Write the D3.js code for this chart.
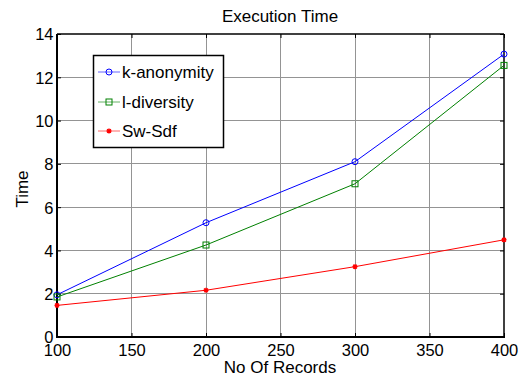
<!DOCTYPE html>
<html><head><meta charset="utf-8">
<script src="https://cdn.jsdelivr.net/npm/d3@7"></script>
<style>
html,body{margin:0;padding:0;background:#fff;}
svg{display:block;}
text{font-family:"Liberation Sans",Arial,sans-serif;fill:#000;}
</style></head>
<body>
<script>
const records = [100, 200, 300, 400];
const kAnonymity = [1.95, 5.28, 8.1, 13.07];
const lDiversity = [1.85, 4.25, 7.08, 12.55];
const swSdf = [1.46, 2.16, 3.25, 4.49];
const xTicks = [100, 150, 200, 250, 300, 350, 400];
const yTicks = [0, 2, 4, 6, 8, 10, 12, 14];
const seriesNames = ["k-anonymity", "l-diversity", "Sw-Sdf"];
const seriesColors = ["#0000ff", "#008000", "#ff0000"];
const seriesMarkers = ["circle", "square", "star"];

const W = 526, H = 376;
const L = 57, R = 504, T = 34, B = 337;
const svg = d3.select("body").append("svg").attr("width", W).attr("height", H);
svg.append("rect").attr("width", W).attr("height", H).attr("fill", "#fff");

const x = d3.scaleLinear().domain([100, 400]).range([L, R]);
const y = d3.scaleLinear().domain([0, 14]).range([B, T]);

// grid
const g = svg.append("g");
g.selectAll(".gx").data(xTicks.slice(1, -1)).enter().append("line")
  .attr("x1", d => x(d)).attr("x2", d => x(d)).attr("y1", T).attr("y2", B)
  .attr("stroke", "#949494").attr("stroke-width", 1).attr("shape-rendering", "crispEdges");
g.selectAll(".gy").data(yTicks.slice(1, -1)).enter().append("line")
  .attr("y1", d => y(d)).attr("y2", d => y(d)).attr("x1", L).attr("x2", R)
  .attr("stroke", "#949494").attr("stroke-width", 1).attr("shape-rendering", "crispEdges");

// axes via d3
const axB = svg.append("g").attr("transform", `translate(0,${B})`)
  .call(d3.axisBottom(x).tickValues(xTicks).tickSize(-4).tickPadding(9).tickFormat(d3.format("d")));
const axL = svg.append("g").attr("transform", `translate(${L},0)`)
  .call(d3.axisLeft(y).tickValues(yTicks).tickSize(-4).tickPadding(3.5).tickFormat(d3.format("d")));
const axT = svg.append("g").attr("transform", `translate(0,${T})`)
  .call(d3.axisTop(x).tickValues(xTicks).tickSize(-4).tickFormat(""));
const axR = svg.append("g").attr("transform", `translate(${R},0)`)
  .call(d3.axisRight(y).tickValues(yTicks).tickSize(-4).tickFormat(""));
[axB, axL, axT, axR].forEach(a => {
  a.select(".domain").remove();
  a.selectAll("line").attr("stroke", "#000").attr("stroke-width", 1);
  a.selectAll("text").attr("font-size", 16.5).attr("font-family", "Liberation Sans, Arial, sans-serif").attr("fill", "#000");
});
axB.selectAll("text").attr("dy", null).attr("y", 19);
axL.selectAll("text").attr("dy", "0.36em");

// frame
svg.append("line").attr("x1", L).attr("x2", R).attr("y1", T).attr("y2", T).attr("stroke", "#000").attr("stroke-width", 1.5);
svg.append("line").attr("x1", R).attr("x2", R).attr("y1", T).attr("y2", B).attr("stroke", "#000").attr("stroke-width", 1.5);
svg.append("line").attr("x1", L).attr("x2", R + 1).attr("y1", B).attr("y2", B).attr("stroke", "#000").attr("stroke-width", 2);
svg.append("line").attr("x1", L).attr("x2", L).attr("y1", T).attr("y2", B + 1).attr("stroke", "#000").attr("stroke-width", 2);

// marker drawing
function drawMarker(sel, type, color, cx, cy) {
  if (type === "circle") {
    sel.append("circle").attr("cx", cx).attr("cy", cy).attr("r", 3).attr("fill", "none").attr("stroke", color).attr("stroke-width", 1);
  } else if (type === "square") {
    sel.append("rect").attr("x", cx - 3).attr("y", cy - 3).attr("width", 6).attr("height", 6).attr("fill", "none").attr("stroke", color).attr("stroke-width", 1);
  } else {
    const s = 2.5;
    const p = `M${cx - s},${cy}L${cx + s},${cy}M${cx},${cy - s}L${cx},${cy + s}M${cx - s * 0.75},${cy - s * 0.75}L${cx + s * 0.75},${cy + s * 0.75}M${cx - s * 0.75},${cy + s * 0.75}L${cx + s * 0.75},${cy - s * 0.75}`;
    sel.append("path").attr("d", p).attr("stroke", color).attr("stroke-width", 1.4).attr("fill", "none");
  }
}

const allSeries = [kAnonymity, lDiversity, swSdf];
const line = d3.line().x((d, i) => x(records[i])).y(d => y(d));
allSeries.forEach((vals, si) => {
  const gs = svg.append("g");
  gs.append("path").datum(vals).attr("d", line).attr("fill", "none")
    .attr("stroke", seriesColors[si]).attr("stroke-width", 1);
  vals.forEach((v, i) => drawMarker(gs, seriesMarkers[si], seriesColors[si], x(records[i]), y(v)));
});

// title and labels
svg.append("text").attr("x", 280).attr("y", 22).attr("text-anchor", "middle").attr("font-size", 17).text("Execution Time");
svg.append("text").attr("x", 280).attr("y", 373).attr("text-anchor", "middle").attr("font-size", 17).text("No Of Records");
svg.append("text").attr("transform", "translate(28,189) rotate(-90)").attr("text-anchor", "middle").attr("font-size", 17).text("Time");

// legend
const lg = svg.append("g");
lg.append("rect").attr("x", 93.5).attr("y", 55.5).attr("width", 130).attr("height", 92)
  .attr("fill", "#fff").attr("stroke", "#000").attr("stroke-width", 1.5);
const legY = [72, 102, 131];
seriesNames.forEach((n, i) => {
  lg.append("line").attr("x1", 98).attr("x2", 120).attr("y1", legY[i]).attr("y2", legY[i])
    .attr("stroke", seriesColors[i]).attr("stroke-width", 1).attr("stroke-opacity", 0.6);
  drawMarker(lg, seriesMarkers[i], seriesColors[i], 109, legY[i]);
  lg.append("text").attr("x", 122).attr("y", legY[i] + 6).attr("font-size", 17).text(n);
});
</script>
</body></html>
